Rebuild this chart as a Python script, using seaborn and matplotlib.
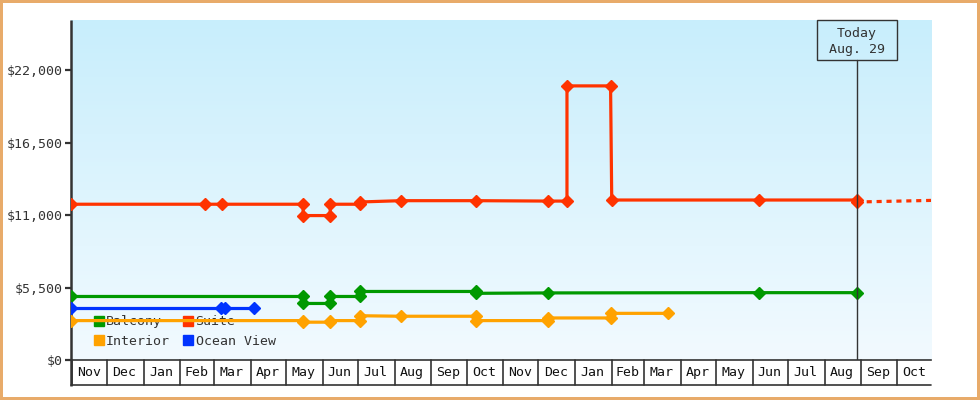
import numpy as np
import pandas as pd
import matplotlib
matplotlib.use("Agg")
import matplotlib.pyplot as plt
import matplotlib.dates as mdates
import matplotlib.transforms as mtransforms
from matplotlib.colors import LinearSegmentedColormap
from matplotlib.lines import Line2D
from matplotlib.patches import Rectangle
import seaborn as sns

# historial de precios por tipo de cabina
suite_dates = ["2023-11-01", "2024-02-23", "2024-03-08", "2024-05-16", "2024-05-16", "2024-06-08",
               "2024-06-08", "2024-07-03", "2024-07-03", "2024-08-07", "2024-10-10", "2024-12-10",
               "2024-12-26", "2024-12-26", "2025-02-01", "2025-02-02", "2025-06-07", "2025-08-29",
               "2025-08-29"]
suite_prices = [11820, 11820, 11820, 11820, 10960, 10960, 11820, 11820, 11990, 12090, 12090, 12060,
                12060, 20800, 20800, 12140, 12140, 12140, 11990]

balcony_dates = ["2023-11-01", "2024-05-16", "2024-05-16", "2024-06-08", "2024-06-08", "2024-07-03",
                 "2024-07-03", "2024-10-10", "2024-10-10", "2024-12-10", "2025-06-07", "2025-08-29"]
balcony_prices = [4820, 4820, 4290, 4290, 4820, 4820, 5200, 5200, 5060, 5090, 5110, 5110]

interior_dates = ["2023-11-01", "2024-05-16", "2024-05-16", "2024-06-08", "2024-06-08", "2024-07-03",
                  "2024-07-03", "2024-08-07", "2024-10-10", "2024-10-10", "2024-12-10", "2024-12-10",
                  "2025-02-01", "2025-02-01", "2025-03-22"]
interior_prices = [2990, 2990, 2870, 2870, 2990, 2990, 3360, 3320, 3320, 2990, 2990, 3190, 3190,
                   3540, 3540]

ocean_dates = ["2023-11-01", "2024-03-07", "2024-03-11", "2024-04-04"]
ocean_prices = [3930, 3930, 3930, 3930]

# proyeccion (linea punteada) despues de hoy
proj_dates = ["2025-08-29", "2025-10-31"]
proj_prices = [11990, 12110]

today = "2025-08-29"
today_label = "Today\nAug. 29"
x_start, x_end = "2023-11-01", "2025-11-01"
y_ticks = [0, 5500, 11000, 16500, 22000]
y_max = 25800

colors = {"Balcony": "#009900", "Suite": "#ff3300", "Interior": "#ffa200", "Ocean View": "#0033ff"}
legend_order = ["Balcony", "Interior", "Suite", "Ocean View"]

frames = []
for name, d, p in [("Suite", suite_dates, suite_prices), ("Balcony", balcony_dates, balcony_prices),
                   ("Interior", interior_dates, interior_prices), ("Ocean View", ocean_dates, ocean_prices)]:
    frames.append(pd.DataFrame({"date": pd.to_datetime(d), "price": p, "cabin": name}))
df = pd.concat(frames, ignore_index=True)

sns.set_style("white")
plt.rcParams["font.family"] = ["DejaVu Sans Mono"]
ink = "#333333"

fig = plt.figure(figsize=(9.8, 4.0), dpi=100)
fig.patch.set_edgecolor("#e8ab6a")
fig.patch.set_linewidth(2.9)
ax = fig.add_axes([71 / 980, 40 / 400, 860 / 980, 340 / 400])

# fondo degradado
cmap = LinearSegmentedColormap.from_list("bg", ["#f2faff", "#c8eefc"])
ax.imshow(np.linspace(0, 1, 256).reshape(-1, 1)[::-1], extent=[0, 1, 0, 1], transform=ax.transAxes,
          aspect="auto", cmap=cmap, zorder=0)

sns.lineplot(data=df, x="date", y="price", hue="cabin", palette=colors, estimator=None, sort=False,
             marker="D", markersize=6.2, markeredgewidth=1.0, linewidth=2.3, legend=False, ax=ax, zorder=3)
for line in ax.get_lines():
    line.set_markeredgecolor(line.get_color())
    line.set_markerfacecolor(line.get_color())
ax.plot(pd.to_datetime(proj_dates), proj_prices, color=colors["Suite"], lw=2.3, dashes=(1.6, 1.5),
        zorder=3)

ax.set_xlim(pd.Timestamp(x_start), pd.Timestamp(x_end) - pd.Timedelta(days=1))
ax.set_ylim(0, y_max)
ax.set_yticks(y_ticks)
ax.set_yticklabels([f"${v:,}" for v in y_ticks])
ax.set_xticks([])
ax.set_xlabel("")
ax.set_ylabel("")
ax.tick_params(axis="y", length=4, width=1.6, color=ink, labelcolor=ink, labelsize=9.5, pad=2, left=True)
for s in ["top", "right"]:
    ax.spines[s].set_visible(False)
ax.spines["left"].set_visible(False)
ax.spines["bottom"].set_color(ink)
ax.spines["bottom"].set_linewidth(1.2)

# celdas de meses debajo del eje
cell_h = -25 / 340
blend = mtransforms.blended_transform_factory(ax.transData, ax.transAxes)
months = pd.date_range(x_start, x_end, freq="MS")
for i in range(len(months) - 1):
    m0, m1 = mdates.date2num(months[i]), mdates.date2num(months[i + 1])
    ax.plot([m0 + 0.8, m0 + 0.8], [0, cell_h], transform=blend, color=ink, lw=1.2, clip_on=False)
    ax.text((m0 + m1) / 2, cell_h / 2, months[i].strftime("%b"), transform=blend, ha="center",
            va="center", fontsize=9.5, color="#111111", clip_on=False)
ax.plot([0, 1], [cell_h, cell_h], transform=ax.transAxes, color=ink, lw=1.2, clip_on=False)
ax.plot([0, 0], [cell_h - 0.003, 1], transform=ax.transAxes, color=ink, lw=1.8, clip_on=False,
        solid_capstyle="butt")

# marcador de hoy
t = mdates.date2num(pd.Timestamp(today))
box_bottom = 300 / 340
ax.plot([t, t], [0, box_bottom], transform=blend, color=ink, lw=1.0, zorder=4)
ax.add_patch(Rectangle((t - 34, box_bottom), 68, 1 - box_bottom, transform=blend, fill=False,
                       edgecolor=ink, lw=1.0, zorder=4, clip_on=False))
ax.text(t, 0.938, today_label, transform=blend, ha="center", va="center", fontsize=9.5, color=ink,
        linespacing=1.3, zorder=4)

handles = [Line2D([], [], marker="s", linestyle="none", markersize=7.2, color=colors[k]) for k in legend_order]
leg = ax.legend(handles, legend_order, loc="lower left", bbox_to_anchor=(0.026, 0.036), ncol=2,
                frameon=False, fontsize=9.5, handlelength=0.8, handletextpad=0.15, columnspacing=1.0,
                labelspacing=0.5, borderpad=0, borderaxespad=0)
for txt in leg.get_texts():
    txt.set_color(ink)
leg.set_zorder(2)

fig.savefig("out.png", dpi=100)
